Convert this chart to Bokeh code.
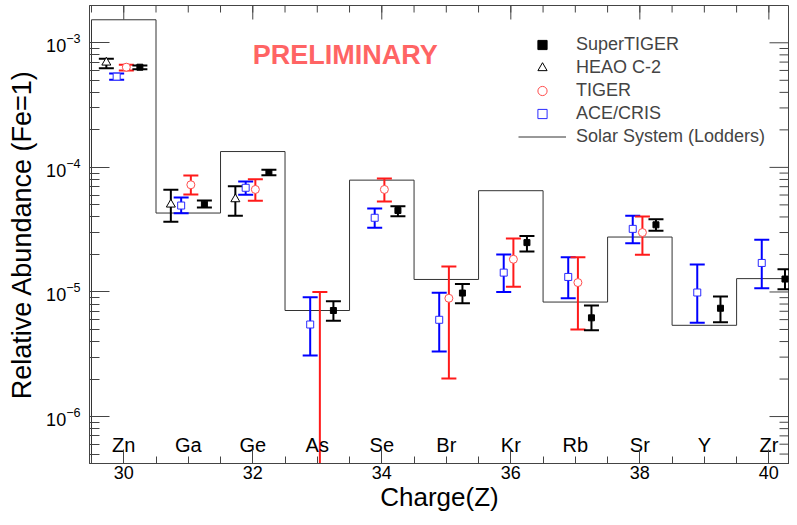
import numpy as np
from bokeh.plotting import figure
from bokeh.models import (SingleIntervalTicker, FixedTicker,
                          LogTickFormatter, Range1d, Legend, LegendItem, Label)
from bokeh.core.properties import value
from bokeh.embed import file_html
from bokeh.resources import INLINE

# ---------------- data ----------------
elements = ["Zn", "Ga", "Ge", "As", "Se", "Br", "Kr", "Rb", "Sr", "Y", "Zr"]
solar_z = [30, 31, 32, 33, 34, 35, 36, 37, 38, 39, 40]
solar_val = [1.53e-3, 4.3e-5, 1.34e-4, 7.1e-6, 7.9e-5, 1.26e-5, 6.5e-5, 8.3e-6, 2.76e-5, 5.4e-6, 1.28e-5]

st_z = [30, 31, 32, 33, 34, 35, 36, 37, 38, 39, 40]
st_val = [6.37e-4, 5.07e-5, 9.1e-5, 7.1e-6, 4.51e-5, 9.8e-6, 2.49e-5, 6.2e-6, 3.46e-5, 7.4e-6, 1.27e-5]
st_hi = [6.57e-4, 5.42e-5, 9.57e-5, 8.44e-6, 4.88e-5, 1.16e-5, 2.81e-5, 7.8e-6, 3.84e-5, 9.2e-6, 1.52e-5]
st_lo = [6.14e-4, 4.77e-5, 8.66e-5, 5.87e-6, 4.06e-5, 8.13e-6, 2.11e-5, 4.94e-6, 3.10e-5, 5.72e-6, 1.05e-5]

heao_z = [30, 31, 32]
heao_val = [6.95e-4, 5.04e-5, 5.56e-5]
heao_hi = [7.44e-4, 6.61e-5, 7.07e-5]
heao_lo = [6.25e-4, 3.66e-5, 4.09e-5]

tiger_z = [30, 31, 32, 33, 34, 35, 36, 37, 38]
tiger_val = [6.37e-4, 7.25e-5, 6.65e-5, 3.0e-7, 6.65e-5, 8.9e-6, 1.83e-5, 1.19e-5, 3.0e-5]
tiger_hi = [6.66e-4, 8.61e-5, 8.04e-5, 1.0e-5, 8.15e-5, 1.60e-5, 2.69e-5, 1.90e-5, 4.04e-5]
tiger_lo = [5.99e-4, 6.06e-5, 5.39e-5, 1.0e-8, 5.32e-5, 2.02e-6, 1.10e-5, 5.0e-6, 1.99e-5]

ace_z = [30, 31, 32, 33, 34, 35, 36, 37, 38, 39, 40]
ace_val = [5.35e-4, 4.94e-5, 6.86e-5, 5.48e-6, 3.94e-5, 5.98e-6, 1.43e-5, 1.32e-5, 3.21e-5, 9.9e-6, 1.71e-5]
ace_hi = [5.68e-4, 5.73e-5, 7.7e-5, 9.08e-6, 4.68e-5, 9.85e-6, 2.0e-5, 1.9e-5, 4.09e-5, 1.66e-5, 2.62e-5]
ace_lo = [5.05e-4, 4.29e-5, 6.03e-5, 3.09e-6, 3.27e-5, 3.33e-6, 1.0e-5, 8.92e-6, 2.46e-5, 5.66e-6, 1.07e-5]

y_major = [1e-6, 1e-5, 1e-4, 1e-3]
x_major = [30, 32, 34, 36, 38, 40]

# ---------------- styles ----------------
FONT = "Liberation Sans"
AX = "#444444"
X0, X1 = 29.469, 40.32
Y0, Y1 = 4.20e-7, 1.992e-3

p = figure(width=789, height=517,
           x_range=Range1d(X0, X1), y_range=Range1d(Y0, Y1),
           y_axis_type="log", output_backend="svg", toolbar_location=None,
           min_border_left=89, min_border_right=0, min_border_top=5, min_border_bottom=54)
p.xgrid.visible = False
p.ygrid.visible = False
p.outline_line_color = AX
p.background_fill_color = "white"
p.border_fill_color = "white"

y_minor = [m * d for d in [1e-7] + y_major for m in range(2, 10)]
x_minor = [x / 2 for x in range(59, 82)]
yticker = FixedTicker(ticks=y_major, minor_ticks=y_minor)
xticker = SingleIntervalTicker(interval=2, num_minor_ticks=4)

def style_axis(ax, maj, mnr):
    ax.axis_line_color = AX
    ax.major_tick_line_color = AX
    ax.minor_tick_line_color = AX
    ax.major_tick_in = maj
    ax.major_tick_out = 0
    ax.minor_tick_in = mnr
    ax.minor_tick_out = 0
    ax.major_label_text_font = FONT
    ax.major_label_text_font_size = "18px"
    ax.major_label_text_color = "black"
    ax.axis_label_text_font = FONT
    ax.axis_label_text_font_style = "normal"
    ax.axis_label_text_color = "black"

yax = p.yaxis[0]
yax.ticker = yticker
yax.formatter = LogTickFormatter()
style_axis(yax, 20, 10)
yax.axis_label = "Relative Abundance (Fe=1)"
yax.axis_label_text_font_size = "27px"
yax.major_label_standoff = 9
yax.axis_label_standoff = 6

xax = p.xaxis[0]
xax.ticker = xticker
style_axis(xax, 14, 7)
xax.axis_label = "Charge(Z)"
xax.axis_label_text_font_size = "26px"
xax.major_label_standoff = 2
xax.axis_label_standoff = 0

# mirrored ticks on the right and top edges of the frame
y_minor_in = [v for v in y_minor if Y0 <= v <= Y1]
p.ray(x=[X1] * len(y_major), y=y_major, length=20, length_units="screen",
      angle=np.pi, line_color=AX, line_width=1)
p.ray(x=[X1] * len(y_minor_in), y=y_minor_in, length=10, length_units="screen",
      angle=np.pi, line_color=AX, line_width=1)
p.ray(x=x_major, y=[Y1] * len(x_major), length=14, length_units="screen",
      angle=-np.pi / 2, line_color=AX, line_width=1)
p.ray(x=x_minor, y=[Y1] * len(x_minor), length=7, length_units="screen",
      angle=-np.pi / 2, line_color=AX, line_width=1)

# ---------------- solar system step histogram ----------------
sx = [solar_z[0] - 0.5]
sy = [1e-9]
for z, v in zip(solar_z, solar_val):
    sx += [z - 0.5, z + 0.5]
    sy += [v, v]
solar_r = p.line(sx, sy, line_color="#333333", line_width=1)

# ---------------- data sets with error bars ----------------
def series(z, val, hi, lo, dx, color, mcolor, marker, size, fill):
    x = [zz + dx for zz in z]
    p.segment(x0=x, y0=lo, x1=x, y1=hi, line_color=color, line_width=2)
    p.scatter(x, hi, marker="dash", size=15, line_color=color, line_width=2)
    p.scatter(x, lo, marker="dash", size=15, line_color=color, line_width=2)
    return p.scatter(x, val, marker=marker, size=size, line_color=mcolor,
                     fill_color=fill, line_width=1)

heao_r = series(heao_z, heao_val, heao_hi, heao_lo, -0.27, "black", "black", "triangle", 9, "white")
ace_r = series(ace_z, ace_val, ace_hi, ace_lo, -0.11, "#0000ff", "#2a2aff", "square", 7, "white")
tiger_r = series(tiger_z, tiger_val, tiger_hi, tiger_lo, 0.04, "#ff1a1a", "#ff4d4d", "circle", 8, "white")
st_r = series(st_z, st_val, st_hi, st_lo, 0.25, "black", "black", "square", 6, "black")

# ---------------- element labels ----------------
p.text(x=solar_z, y=[5.94e-7] * len(solar_z), text=elements, text_align="center",
       text_baseline="alphabetic", text_font=value(FONT), text_font_size="20px",
       text_color="black")

p.add_layout(Label(x=32.0, y=8.0e-4, text="PRELIMINARY", text_font=FONT,
                   text_font_size="27px", text_font_style="bold",
                   text_color="#ff6464", text_baseline="alphabetic"))

legend = Legend(items=[
    LegendItem(label="SuperTIGER", renderers=[st_r]),
    LegendItem(label="HEAO C-2", renderers=[heao_r]),
    LegendItem(label="TIGER", renderers=[tiger_r]),
    LegendItem(label="ACE/CRIS", renderers=[ace_r]),
    LegendItem(label="Solar System (Lodders)", renderers=[solar_r]),
], location=(429, 315), padding=0, margin=0, spacing=0,
    glyph_width=48, glyph_height=23, label_height=23, label_standoff=10,
    label_text_font=FONT, label_text_font_size="18px",
    border_line_alpha=0, background_fill_alpha=0)
p.add_layout(legend)

open("out.html", "w").write(file_html(p, INLINE))
